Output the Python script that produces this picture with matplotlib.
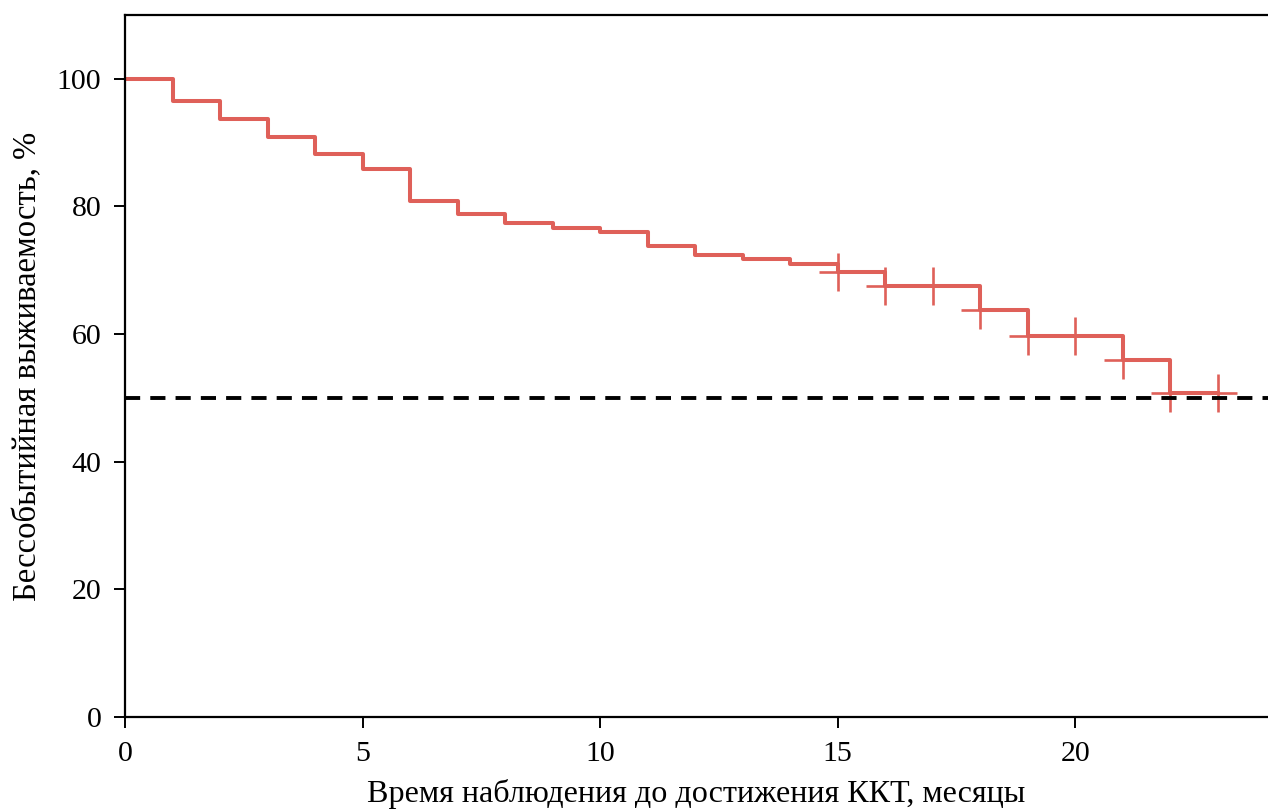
import numpy as np
import matplotlib
matplotlib.use('Agg')
import matplotlib.pyplot as plt

plt.rcParams['font.family'] = ['Liberation Serif', 'DejaVu Serif']

# кривая Каплана-Мейера (месяцы, %)
months = [0, 1, 2, 3, 4, 5, 6, 7, 8, 9, 10, 11, 12, 13, 14, 15, 16, 17, 18, 19, 20, 21, 22, 23]
survival = [100, 96.6, 93.7, 90.9, 88.2, 85.9, 80.8, 78.8, 77.4, 76.6, 76.0, 73.8,
            72.4, 71.7, 71.0, 69.7, 67.5, 67.5, 63.8, 59.7, 59.7, 55.9, 50.8, 50.8]

# цензурированные наблюдения
censor_t = [15, 16, 17, 18, 19, 20, 21, 22, 23]
censor_s = [69.7, 67.5, 67.5, 63.8, 59.7, 59.7, 55.9, 50.8, 50.8]

median_level = 50

red = '#df6059'

fig = plt.figure(figsize=(12.68, 8.10), dpi=100)
ax = fig.add_axes([0.0986, 0.1148, 0.9014, 0.8667])

ax.step(months, survival, where='post', color=red, linewidth=2.9)
ax.plot(censor_t, censor_s, linestyle='none', marker='+', markersize=27,
        markeredgewidth=1.9, color=red)
ax.axhline(median_level, color='black', linewidth=2.8, linestyle=(0, (3.9, 2.6)))

ax.set_xlim(0, 24.06)
ax.set_ylim(0, 110)
ax.set_xticks([0, 5, 10, 15, 20])
ax.set_yticks([0, 20, 40, 60, 80, 100])

for s in ['left', 'bottom', 'top']:
    ax.spines[s].set_linewidth(1.6)
ax.spines['right'].set_visible(False)
ax.tick_params(direction='out', length=8, width=1.4, labelsize=21.5, pad=9)

ax.set_xlabel('Время наблюдения до достижения ККТ, месяцы', fontsize=23.1, labelpad=9)
ax.set_ylabel('Бессобытийная выживаемость, %', fontsize=23.5, labelpad=10)

fig.savefig('out.png', dpi=100)
